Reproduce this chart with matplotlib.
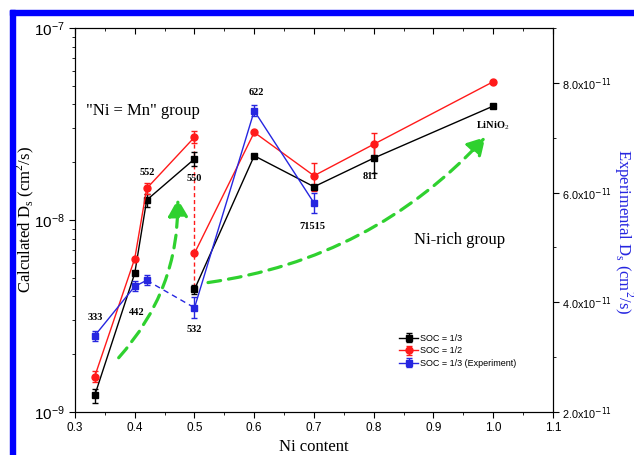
import numpy as np
import matplotlib
matplotlib.use("Agg")
import matplotlib.pyplot as plt
from matplotlib.ticker import MultipleLocator, FuncFormatter, LogLocator, NullFormatter
from matplotlib.patches import FancyArrowPatch, Rectangle

# Ni content of each composition (550 and 532 share Ni = 0.5)
ni = [0.333, 0.4, 0.42, 0.5, 0.5, 0.6, 0.7, 0.8, 1.0]
names = ['333', '442', '552', '550', '532', '622', '71515', '811', 'LiNiO$_2$']

# calculated Ds, SOC = 1/3 and 1/2 (cm2/s)
soc13 = [1.22e-9, 5.28e-9, 1.27e-8, 2.08e-8, 4.35e-9, 2.16e-8, 1.49e-8, 2.10e-8, 3.92e-8]
soc13_err = [1.0e-10, 0, 1.0e-9, 1.7e-9, 2.5e-10, 0, 0, 3.5e-9, 0]
soc12 = [1.53e-9, 6.30e-9, 1.46e-8, 2.70e-8, 6.71e-9, 2.86e-8, 1.70e-8, 2.48e-8, 5.25e-8]
soc12_err = [1.0e-10, 0, 9.0e-10, 1.9e-9, 0, 0, 2.9e-9, 3.5e-9, 0]

# experimental Ds (right axis)
exp_ni = [0.333, 0.4, 0.42, 0.5, 0.6, 0.7]
exp_ds = [3.39e-11, 4.29e-11, 4.40e-11, 3.90e-11, 7.49e-11, 5.81e-11]
exp_err = [0.9e-12, 0.9e-12, 0.9e-12, 1.9e-12, 1.0e-12, 1.8e-12]

label_pos = [(0.334, 3.1e-9), (0.404, 3.3e-9), (0.4205, 1.76e-8), (0.5, 1.65e-8),
             (0.5, 2.7e-9), (0.603, 4.64e-8), (0.697, 9.3e-9), (0.794, 1.69e-8),
             (1.0, 3.1e-8)]

serif = 'Liberation Serif'
sans = 'Liberation Sans'
plt.rcParams['font.family'] = sans
plt.rcParams['mathtext.fontset'] = 'custom'
plt.rcParams['mathtext.rm'] = serif

blue = '#2626e0'
red = '#ff1a1a'

fig = plt.figure(figsize=(6.34, 4.55), dpi=100)
ax = fig.add_axes([0.1183, 0.0945, 0.7539, 0.844])
ax2 = ax.twinx()

ax.set_yscale('log')
ax.set_xlim(0.3, 1.1)
ax.set_ylim(1e-9, 1e-7)
ax2.set_ylim(2e-11, 9e-11)

i = 4  # split: 550 and 532 are not joined by a solid line
for y, e, c, m, lab in [(soc13, soc13_err, 'black', 's', 'SOC = 1/3'),
                        (soc12, soc12_err, red, 'o', 'SOC = 1/2')]:
    ax.errorbar(ni[:i], y[:i], yerr=e[:i], color=c, marker=m, ms=5, lw=1,
                capsize=2.5, elinewidth=1, label=lab)
    ax.errorbar(ni[i:], y[i:], yerr=e[i:], color=c, marker=m, ms=5, lw=1,
                capsize=2.5, elinewidth=1)
ax.plot([ni[3], ni[4]], [soc12[3], soc13[4]], color=red, lw=1, ls=(0, (3, 2)), zorder=1)

# experiment: dashed between 552 and 532
ax2.errorbar(exp_ni[:3], exp_ds[:3], yerr=exp_err[:3], color=blue, marker='s', ms=4.5,
             lw=1, capsize=2.5, label='SOC = 1/3 (Experiment)')
ax2.plot(exp_ni[2:4], exp_ds[2:4], color=blue, lw=1, ls=(0, (4, 3)))
ax2.errorbar(exp_ni[3:], exp_ds[3:], yerr=exp_err[3:], color=blue, marker='s', ms=4.5,
             lw=1, capsize=2.5)

for (x, y), t in zip(label_pos, names):
    ax.text(x, y, t, ha='center', va='center', fontsize=7.5, fontweight='bold',
            family=serif)
ax.text(0.414, 3.7e-8, '"Ni = Mn" group', ha='center', va='center', fontsize=12, family=serif)
ax.text(0.944, 7.9e-9, 'Ni-rich group', ha='center', va='center', fontsize=12, family=serif)

green = '#2fd12f'
for p0, p1, rad in [((0.370, 1.87e-9), (0.472, 1.33e-8), 0.2),
                    ((0.518, 4.7e-9), (0.99, 2.77e-8), 0.18)]:
    ax.add_patch(FancyArrowPatch(p0, p1, connectionstyle=f'arc3,rad={rad}',
                                 arrowstyle='-|>,head_length=7,head_width=4',
                                 color=green, lw=2.3, ls=(0, (4, 2.5)),
                                 mutation_scale=1.5, zorder=0))

# ticks
ax.xaxis.set_major_locator(MultipleLocator(0.1))
ax.xaxis.set_minor_locator(MultipleLocator(0.05))
ax.xaxis.set_major_formatter(FuncFormatter(lambda v, p: f'{v:.1f}'))
ax.yaxis.set_major_locator(LogLocator(base=10, numticks=5))
ax.yaxis.set_minor_locator(LogLocator(base=10, subs=np.arange(2, 10), numticks=20))
ax.yaxis.set_minor_formatter(NullFormatter())
ax.tick_params(axis='x', which='both', direction='out', top=True, labelsize=8.5)
ax.tick_params(axis='y', which='both', direction='out', labelsize=11)
ax.tick_params(which='major', length=4)
ax.tick_params(which='minor', length=2.5)
for t in ax.xaxis.get_major_ticks() + ax.xaxis.get_minor_ticks():
    t.tick2line.set_marker(matplotlib.lines.TICKDOWN)

def exp_fmt(v, p):
    return f'{v / 1e-11:.1f}x10$^{{\\mathsf{{-11}}}}$'

ax2.yaxis.set_major_locator(MultipleLocator(2e-11))
ax2.yaxis.set_minor_locator(MultipleLocator(1e-11))
ax2.yaxis.set_major_formatter(FuncFormatter(exp_fmt))
ax2.yaxis.get_offset_text().set_visible(False)
ax2.tick_params(axis='y', which='both', direction='out', labelsize=7.8, pad=2.5)
ax2.tick_params(which='major', length=4)
ax2.tick_params(which='minor', length=2.5)

ax.set_xlabel('Ni content', family=serif, fontsize=12, labelpad=3)
ax.set_ylabel('Calculated D$_\\mathrm{s}$ (cm$^\\mathrm{2}$/s)', family=serif, fontsize=12)
ax.yaxis.set_label_coords(-0.082, 0.5)
ax2.set_ylabel('Experimental D$_\\mathrm{s}$ (cm$^\\mathrm{2}$/s)', family=serif, fontsize=12,
               color=blue, rotation=270, va='center', ha='center')
ax2.yaxis.set_label_coords(1.147, 0.47)

h, l = ax.get_legend_handles_labels()
h2, l2 = ax2.get_legend_handles_labels()
ax2.legend(h + h2, l + l2, loc='upper left', bbox_to_anchor=(0.66, 0.225),
           frameon=False, fontsize=6.5, handlelength=2.2, handletextpad=0.2,
           labelspacing=0.4)

# blue frame along top and left of the figure
fig.patches.append(Rectangle((10 / 634, 0), 5 / 634, 445 / 455, transform=fig.transFigure,
                             color='#0000ff', zorder=10))
fig.patches.append(Rectangle((10 / 634, 440 / 455), 624 / 634, 5 / 455,
                             transform=fig.transFigure, color='#0000ff', zorder=10))

fig.savefig('out.png', dpi=100)
